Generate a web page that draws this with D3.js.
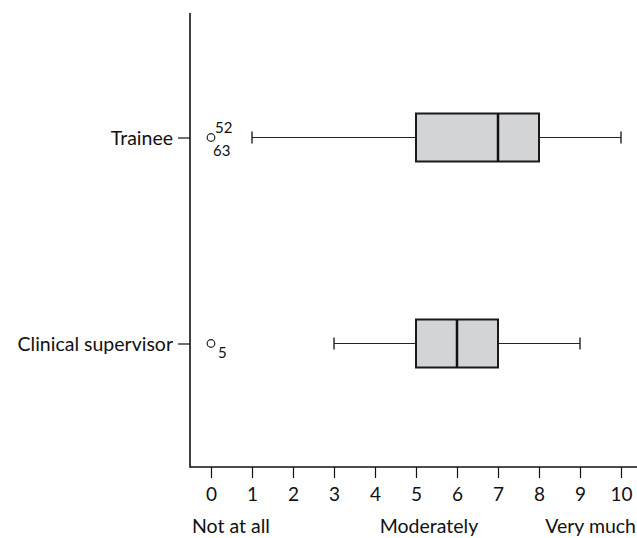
<!DOCTYPE html>
<html lang="en">
<head>
<meta charset="UTF-8">
<title>Box plot</title>
<script src="https://d3js.org/d3.v7.min.js"></script>
<style>
  body { margin: 0; background: #fff; }
  text { font-family: Lato, "Open Sans", sans-serif; fill: #111; }
</style>
</head>
<body>
<div id="chart"></div>
<script>
var categories = ["Trainee", "Clinical supervisor"];
var lowWhisker = [1, 3];
var q1 = [5, 5];
var median = [7, 6];
var q3 = [8, 7];
var highWhisker = [10, 9];
var outlierValue = [0, 0];
var outlierLabels = [["52", "63"], ["5"]];
var xTicks = [0, 1, 2, 3, 4, 5, 6, 7, 8, 9, 10];
var anchorLabels = ["Not at all", "Moderately", "Very much"];
var anchorValues = [0, 5, 10];

var W = 637, H = 538;
var svg = d3.select("#chart").append("svg")
    .attr("width", W).attr("height", H);

var x = d3.scaleLinear().domain([0, 10]).range([211, 621]);
var y = d3.scalePoint().domain(categories).range([137.5, 343.5]);

var axisY = 467, axisX = 190;
var font = "Lato, 'Open Sans', sans-serif";

// axis lines
svg.append("line").attr("x1", axisX).attr("x2", axisX)
    .attr("y1", 13).attr("y2", axisY + 0.8)
    .attr("stroke", "#111").attr("stroke-width", 1.6);
svg.append("line").attr("x1", axisX).attr("x2", W)
    .attr("y1", axisY).attr("y2", axisY)
    .attr("stroke", "#111").attr("stroke-width", 1.6);

// x axis
var gx = svg.append("g").attr("transform", "translate(0," + axisY + ")")
    .call(d3.axisBottom(x).tickValues(xTicks).tickSize(11).tickPadding(5).tickSizeOuter(0));
gx.select(".domain").remove();
gx.selectAll("line").attr("stroke", "#111").attr("stroke-width", 1.2);
gx.selectAll("text").attr("fill", "#111").attr("dy", null)
    .attr("y", 34)
    .style("font-size", "19px").style("font-family", font);

// y axis
var gy = svg.append("g").attr("transform", "translate(" + axisX + ",0)")
    .call(d3.axisLeft(y).tickSize(12).tickPadding(5).tickSizeOuter(0));
gy.select(".domain").remove();
gy.selectAll("line").attr("stroke", "#111").attr("stroke-width", 1.2);
gy.selectAll("text").attr("fill", "#111").attr("dy", null).attr("y", 6.5)
    .style("font-size", "19.5px").style("font-family", font);

// anchor labels
svg.selectAll(".anchor").data(anchorLabels).enter().append("text")
    .attr("x", function(d, i) {
        if (i === 0) return x(anchorValues[i]) - 19;
        if (i === 2) return W - 1;
        return x(anchorValues[i]) + 13;
    })
    .attr("y", 533)
    .attr("text-anchor", function(d, i) { return i === 0 ? "start" : (i === 2 ? "end" : "middle"); })
    .style("font-size", "19.5px")
    .text(function(d) { return d; });

var boxH = 48, capH = 12;
var rows = svg.selectAll(".row").data(categories).enter().append("g");

// whiskers
rows.append("line")
    .attr("x1", function(d, i) { return x(lowWhisker[i]); })
    .attr("x2", function(d, i) { return x(highWhisker[i]); })
    .attr("y1", function(d) { return y(d); })
    .attr("y2", function(d) { return y(d); })
    .attr("stroke", "#222").attr("stroke-width", 1.2);
rows.selectAll(".cap").data(function(d, i) { return [lowWhisker[i], highWhisker[i]].map(function(v) { return {v: v, c: d}; }); })
    .enter().append("line")
    .attr("x1", function(d) { return x(d.v); })
    .attr("x2", function(d) { return x(d.v); })
    .attr("y1", function(d) { return y(d.c) - capH / 2; })
    .attr("y2", function(d) { return y(d.c) + capH / 2; })
    .attr("stroke", "#222").attr("stroke-width", 1.4);

// boxes
rows.append("rect")
    .attr("x", function(d, i) { return x(q1[i]); })
    .attr("width", function(d, i) { return x(q3[i]) - x(q1[i]); })
    .attr("y", function(d) { return y(d) - boxH / 2; })
    .attr("height", boxH)
    .attr("fill", "#d3d4d6").attr("stroke", "#1a1a1a").attr("stroke-width", 2);
rows.append("line")
    .attr("x1", function(d, i) { return x(median[i]); })
    .attr("x2", function(d, i) { return x(median[i]); })
    .attr("y1", function(d) { return y(d) - boxH / 2; })
    .attr("y2", function(d) { return y(d) + boxH / 2; })
    .attr("stroke", "#111").attr("stroke-width", 2.5);

// outliers
rows.append("circle")
    .attr("cx", function(d, i) { return x(outlierValue[i]); })
    .attr("cy", function(d) { return y(d); })
    .attr("r", 3.8)
    .attr("fill", "none").attr("stroke", "#222").attr("stroke-width", 1.2);
rows.each(function(d, i) {
    var g = d3.select(this);
    var labs = outlierLabels[i];
    var ox = x(outlierValue[i]);
    if (labs.length === 2) {
        g.append("text").attr("x", ox + 4).attr("y", y(d) - 4.5)
            .style("font-size", "15px").text(labs[0]);
        g.append("text").attr("x", ox + 2).attr("y", y(d) + 18.5)
            .style("font-size", "15px").text(labs[1]);
    } else {
        g.append("text").attr("x", ox + 7).attr("y", y(d) + 14.5)
            .style("font-size", "15px").text(labs[0]);
    }
});
</script>
</body>
</html>
